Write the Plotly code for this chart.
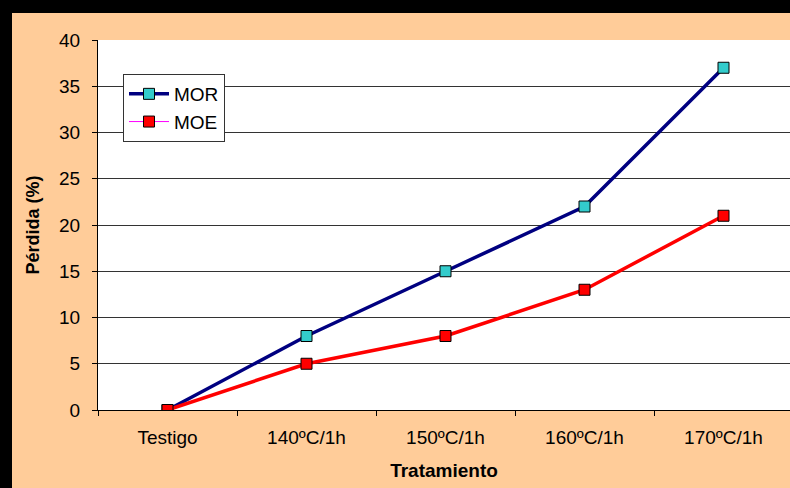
import plotly.graph_objects as go

categories = ["Testigo", "140ºC/1h", "150ºC/1h", "160ºC/1h", "170ºC/1h"]
mor_values = [0, 8, 15, 22, 37]
moe_values = [0, 5, 8, 13, 21]
y_ticks = [0, 5, 10, 15, 20, 25, 30, 35, 40]

FONT = "Arial, Liberation Sans, sans-serif"

fig = go.Figure()
fig.add_trace(go.Scatter(
    x=categories, y=mor_values, name="MOR", mode="lines+markers",
    line=dict(color="#000080", width=3.5),
    marker=dict(symbol="square", size=11, color="#33CCCC", line=dict(color="#000000", width=1)),
))
fig.add_trace(go.Scatter(
    x=categories, y=moe_values, name="MOE", mode="lines+markers",
    line=dict(color="#FF0000", width=3.5),
    marker=dict(symbol="square", size=11, color="#FF0000", line=dict(color="#000000", width=1)),
    showlegend=False,
))
# legend proxy (Excel shows MOE with a thin magenta line in the legend)
fig.add_trace(go.Scatter(
    x=[None], y=[None], name="MOE", mode="lines+markers",
    line=dict(color="#FF00FF", width=1),
    marker=dict(symbol="square", size=11, color="#FF0000", line=dict(color="#000000", width=1)),
))

W, H = 790, 488
L, R, T, B = 98, 0, 40, 78
pw = W - L - R
ph = H - T - B

fig.update_layout(
    width=W, height=H,
    margin=dict(l=L, r=R, t=T, b=B, pad=0),
    paper_bgcolor="#FFCC99",
    plot_bgcolor="#FFFFFF",
    font=dict(family=FONT, size=19, color="#000000"),
    showlegend=True,
    legend=dict(
        x=(123 - L) / pw, y=(410 - 74) / ph, xanchor="left", yanchor="top",
        bgcolor="#FFFFFF", bordercolor="#333333", borderwidth=1,
        font=dict(family=FONT, size=19, color="#000000"),
        itemwidth=40, tracegroupgap=0,
    ),
    xaxis=dict(
        type="category", range=[-0.5, -0.5 + pw / 139.0],
        showline=True, linecolor="#000000", linewidth=1,
        ticks="outside", ticklen=5, tickcolor="#000000", tickson="boundaries",
        showgrid=False, zeroline=False,
        tickfont=dict(family=FONT, size=19),
        ticklabelstandoff=10,
        title=dict(text="<b>Tratamiento</b>", font=dict(family=FONT, size=19), standoff=16),
    ),
    yaxis=dict(
        range=[0, 40], tickvals=y_ticks, ticktext=[str(v) for v in y_ticks],
        showline=True, linecolor="#000000", linewidth=1,
        ticks="outside", ticklen=5, tickcolor="#000000",
        showgrid=True, gridcolor="#333333", gridwidth=1, zeroline=False,
        tickfont=dict(family=FONT, size=19),
        ticklabelstandoff=8,
        title=dict(text="<b>Pérdida (%)</b>", font=dict(family=FONT, size=18), standoff=14),
    ),
    shapes=[
        dict(type="rect", xref="paper", yref="paper",
             x0=(0 - L) / pw, x1=(12 - L) / pw, y0=(410 - 488) / ph, y1=(410 - 0) / ph,
             fillcolor="#000000", line=dict(width=0), layer="above"),
        dict(type="rect", xref="paper", yref="paper",
             x0=(0 - L) / pw, x1=(790 - L) / pw, y0=(410 - 13) / ph, y1=(410 - 0) / ph,
             fillcolor="#000000", line=dict(width=0), layer="above"),
    ],
)

fig.write_html(
    "out.html",
    config={"displayModeBar": False},
    post_script="document.body.style.margin='0';document.body.style.padding='0';document.body.style.overflow='hidden';",
)
